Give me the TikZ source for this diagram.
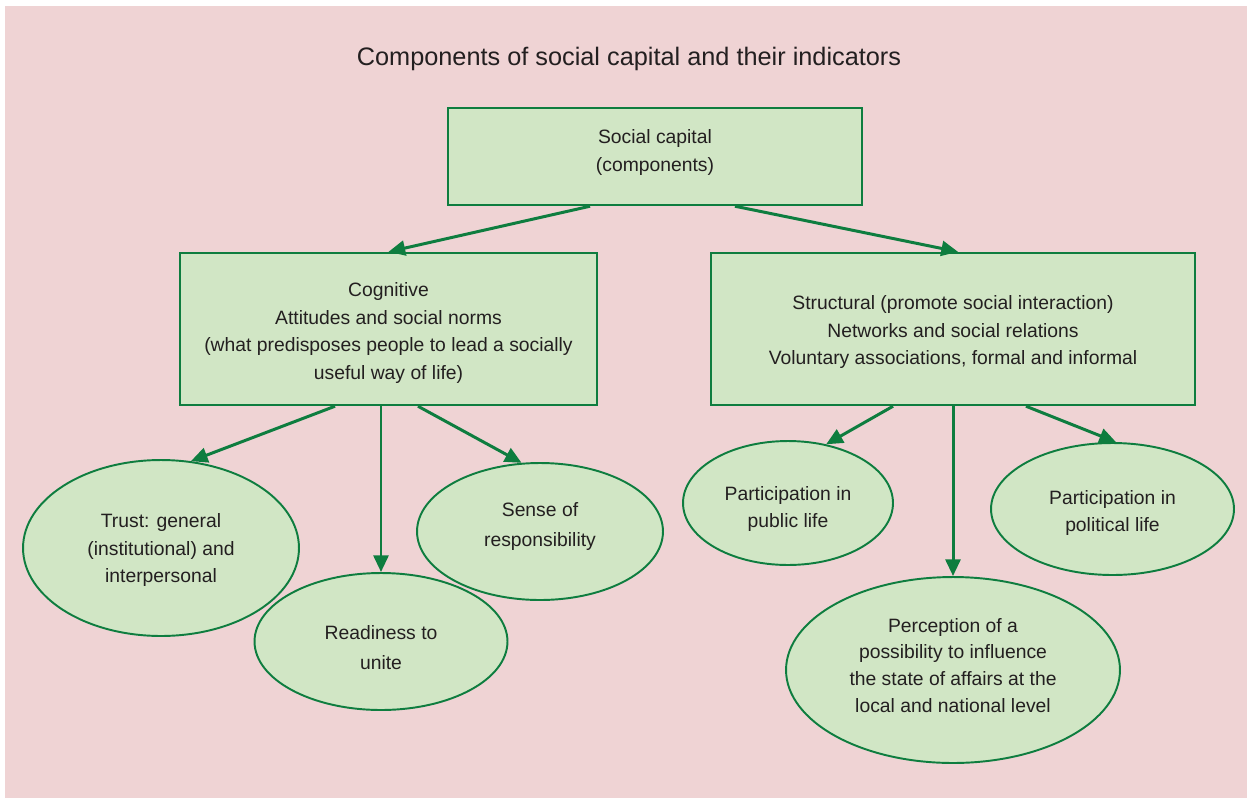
\documentclass[tikz,border=0pt]{standalone}
\usepackage{fontspec}
\setmainfont{Liberation Sans}
\usetikzlibrary{shapes.geometric,arrows.meta}
\definecolor{bg}{HTML}{EFD3D4}
\definecolor{boxfill}{HTML}{D1E6C5}
\definecolor{lgreen}{HTML}{0E7D3F}
\definecolor{txt}{HTML}{231F20}
\begin{document}
\begin{tikzpicture}[x=0.02cm,y=-0.02cm,
  every node/.style={text=txt,font=\fontsize{11}{15.6}\selectfont,align=center,inner sep=0pt},
  compbox/.style={draw=lgreen,line width=1.4pt,fill=boxfill,rectangle},
  indell/.style={draw=lgreen,line width=1.1pt,fill=boxfill,ellipse},
  conn/.style={draw=lgreen,line width=1.7pt,-{Triangle[length=9.5pt,width=8.5pt]}}
]
\useasboundingbox (0,0) rectangle (1247,798);
\fill[bg] (5,6) rectangle (1247,798);

\node[font=\fontsize{14.4}{17}\selectfont] (title) at (629,59) {Components of social capital and their indicators};

% component boxes
\node[compbox,minimum width=8.28cm,minimum height=1.94cm] (sc) at (655,156.5) {};
\node[compbox,minimum width=8.34cm,minimum height=3.04cm] (cog) at (388.5,329) {};
\node[compbox,minimum width=9.68cm,minimum height=3.04cm] (str) at (953,329) {};

% indicator ellipses
\node[indell,minimum width=5.52cm,minimum height=3.52cm] (trust) at (161,548) {};
\node[indell,minimum width=5.06cm,minimum height=2.74cm] (ready) at (381,641.5) {};
\node[indell,minimum width=4.92cm,minimum height=2.74cm] (sense) at (540,531.5) {};
\node[indell,minimum width=4.2cm,minimum height=2.48cm] (pub) at (788,503) {};
\node[indell,minimum width=6.68cm,minimum height=3.72cm] (perc) at (953,670) {};
\node[indell,minimum width=4.86cm,minimum height=2.64cm] (pol) at (1112.5,509) {};

% texts
\node (sc-t) at ([yshift=0.08cm]sc.center) {Social capital\\(components)};
\node (cog-t) at ([yshift=-0.08cm]cog.center) {Cognitive\\Attitudes and social norms\\(what predisposes people to lead a socially\\useful way of life)};
\node (str-t) at ([yshift=-0.06cm]str.center) {Structural (promote social interaction)\\Networks and social relations\\Voluntary associations, formal and informal};
\node (trust-t) at ([yshift=-0.04cm]trust.center) {Trust: general\\(institutional) and\\interpersonal};
\node[font=\fontsize{11}{17}\selectfont] (ready-t) at ([yshift=-0.12cm]ready.center) {Readiness to\\unite};
\node[font=\fontsize{11}{17}\selectfont] (sense-t) at ([yshift=0.1cm]sense.center) {Sense of\\responsibility};
\node (pub-t) at ([yshift=-0.12cm]pub.center) {Participation in\\public life};
\node[font=\fontsize{11}{15.3}\selectfont] (perc-t) at ([yshift=0.09cm]perc.center) {Perception of a\\possibility to influence\\the state of affairs at the\\local and national level};
\node (pol-t) at ([yshift=-0.08cm]pol.center) {Participation in\\political life};

% connectors
\draw[conn] ([xshift=-1.3cm]sc.south) -- (cog.north);
\draw[conn] ([xshift=1.6cm]sc.south) -- ([xshift=0.1cm]str.north);

\draw[conn] ([xshift=-1.07cm]cog.south) -- (trust.71);
\draw[conn] (ready.north |- cog.south) -- (ready.north);
\draw[conn] ([xshift=0.59cm]cog.south) -- (sense.105);

\draw[conn] ([xshift=-1.2cm]str.south) -- (pub.57);
\draw[conn] (perc.north |- str.south) -- (perc.north);
\draw[conn] ([xshift=1.46cm]str.south) -- (pol.87);
\end{tikzpicture}
\end{document}
